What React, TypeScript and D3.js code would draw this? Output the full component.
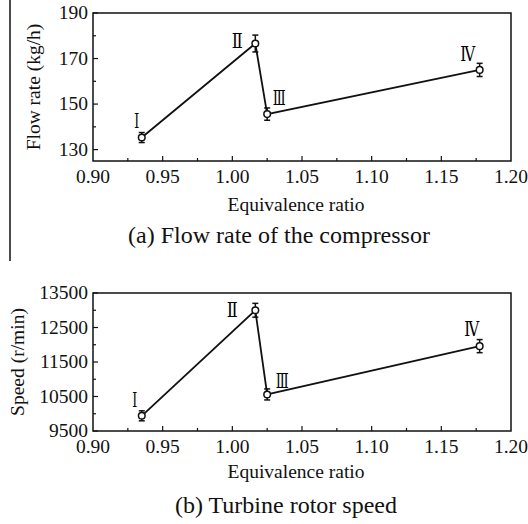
import React, { useEffect, useRef } from 'react';
import * as d3 from 'd3';

// Equivalence ratio of the four operating points
const ratio = [0.935, 1.0165, 1.025, 1.1775];
const pointLabels = ['Ⅰ', 'Ⅱ', 'Ⅲ', 'Ⅳ'];

// (a) compressor flow rate, kg/h
const flowRate = [135.3, 176.6, 145.6, 165.0];
const flowErr = [2.2, 3.7, 2.7, 2.9];
const flowTicks = [130, 150, 170, 190];
const flowMinor = [140, 160, 180];

// (b) turbine rotor speed, r/min
const speed = [9940, 13000, 10560, 11960];
const speedErr = [145, 200, 160, 190];
const speedTicks = [9500, 10500, 11500, 12500, 13500];
const speedMinor = [10000, 11000, 12000, 13000];

const xTicks = [0.9, 0.95, 1.0, 1.05, 1.1, 1.15, 1.2];
const xMinor = [0.925, 0.975, 1.025, 1.075, 1.125, 1.175];

const W = 528;
const H = 524;
const serif = 'Liberation Serif, DejaVu Serif';
const ink = '#111';

const App = () => {
  const ref = useRef<SVGSVGElement>(null);

  useEffect(() => {
    const svg = d3.select(ref.current);
    svg.selectAll('*').remove();
    svg.append('rect').attr('width', W).attr('height', H).attr('fill', '#fff');

    // stray rule at the left edge of the scan
    svg.append('line').attr('x1', 10).attr('x2', 10).attr('y1', 0).attr('y2', 261)
      .attr('stroke', ink).attr('stroke-width', 1.5);

    const panels = [
      {
        top: 13, bottom: 161, domain: [125, 190], ticks: flowTicks, minor: flowMinor,
        values: flowRate, err: flowErr, yTitle: 'Flow rate (kg/h)', yTitleX: 33,
        caption: '(a) Flow rate of the compressor', captionX: 279,
        tickBase: 183, xTitleBase: 211, captionBase: 243,
        offsets: [[-5, -10], [-18, 4], [12, -9], [-12, -9]],
      },
      {
        top: 293, bottom: 431, domain: [9500, 13500], ticks: speedTicks, minor: speedMinor,
        values: speed, err: speedErr, yTitle: 'Speed (r/min)', yTitleX: 17,
        caption: '(b) Turbine rotor speed', captionX: 286,
        tickBase: 453, xTitleBase: 478, captionBase: 513,
        offsets: [[-7, -9], [-23, 7], [15, -6], [-8, -10]],
      },
    ];
    const labelWidths = [5, 11, 13, 15];

    const left = 93;
    const right = 511;
    const x = d3.scaleLinear().domain([0.9, 1.2]).range([left, right]);

    panels.forEach((p) => {
      const y = d3.scaleLinear().domain(p.domain).range([p.bottom, p.top]);
      const g = svg.append('g').style('font-family', serif);

      // frame
      g.append('rect')
        .attr('x', left).attr('y', p.top)
        .attr('width', right - left).attr('height', p.bottom - p.top)
        .attr('fill', 'none').attr('stroke', ink).attr('stroke-width', 1.5);

      // inward ticks
      xTicks.slice(1, -1).forEach((t) => {
        g.append('line').attr('x1', x(t)).attr('x2', x(t))
          .attr('y1', p.bottom).attr('y2', p.bottom - 5).attr('stroke', ink).attr('stroke-width', 1.2);
      });
      xMinor.forEach((t) => {
        g.append('line').attr('x1', x(t)).attr('x2', x(t))
          .attr('y1', p.bottom).attr('y2', p.bottom - 3).attr('stroke', ink).attr('stroke-width', 1.2);
      });
      p.ticks.forEach((t) => {
        g.append('line').attr('x1', left).attr('x2', left + 5)
          .attr('y1', y(t)).attr('y2', y(t)).attr('stroke', ink).attr('stroke-width', 1.2);
      });
      p.minor.forEach((t) => {
        g.append('line').attr('x1', left).attr('x2', left + 3)
          .attr('y1', y(t)).attr('y2', y(t)).attr('stroke', ink).attr('stroke-width', 1.2);
      });

      // tick labels
      g.selectAll('.xl').data(xTicks).enter().append('text')
        .attr('x', (d) => x(d)).attr('y', p.tickBase)
        .attr('text-anchor', 'middle').attr('font-size', 19.5)
        .attr('fill', ink).text((d) => d3.format('.2f')(d));
      g.selectAll('.yl').data(p.ticks).enter().append('text')
        .attr('x', left - 5).attr('y', (d) => y(d)).attr('dy', '0.32em')
        .attr('text-anchor', 'end').attr('font-size', 19.5)
        .attr('fill', ink).text((d) => d);

      // titles
      g.append('text').attr('x', 296).attr('y', p.xTitleBase)
        .attr('text-anchor', 'middle').attr('font-size', 19.5)
        .attr('fill', ink).text('Equivalence ratio');
      g.append('text')
        .attr('transform', `translate(${p.yTitleX},${(p.top + p.bottom) / 2}) rotate(-90)`)
        .attr('dy', '0.35em').attr('text-anchor', 'middle')
        .attr('font-size', 19.5).attr('fill', ink).text(p.yTitle);
      g.append('text').attr('x', p.captionX).attr('y', p.captionBase)
        .attr('text-anchor', 'middle').attr('font-size', 24)
        .attr('fill', ink).text(p.caption);

      // line
      const pts = ratio.map((r, i) => [x(r), y(p.values[i])] as [number, number]);
      g.append('path').attr('d', d3.line()(pts))
        .attr('fill', 'none').attr('stroke', ink).attr('stroke-width', 1.8);

      // error bars + markers
      ratio.forEach((r, i) => {
        const cx = x(r);
        const y1 = y(p.values[i] + p.err[i]);
        const y2 = y(p.values[i] - p.err[i]);
        g.append('line').attr('x1', cx).attr('x2', cx).attr('y1', y1).attr('y2', y2)
          .attr('stroke', ink).attr('stroke-width', 1.5);
        [y1, y2].forEach((yy) => {
          g.append('line').attr('x1', cx - 3).attr('x2', cx + 3).attr('y1', yy).attr('y2', yy)
            .attr('stroke', ink).attr('stroke-width', 1.5);
        });
        g.append('circle').attr('cx', cx).attr('cy', y(p.values[i])).attr('r', 3.3)
          .attr('fill', '#fff').attr('stroke', ink).attr('stroke-width', 1.5);

        const [dx, dy] = p.offsets[i];
        g.append('text')
          .attr('x', cx + dx - labelWidths[i] / 2).attr('y', y(p.values[i]) + dy)
          .attr('font-size', 21).attr('fill', '#000')
          .attr('textLength', labelWidths[i]).attr('lengthAdjust', 'spacingAndGlyphs')
          .text(pointLabels[i]);
      });
    });
  }, []);

  return (
    <svg ref={ref} width={W} height={H}
      style={{ position: 'absolute', left: 0, top: 0, display: 'block' }} />
  );
};

export default App;
